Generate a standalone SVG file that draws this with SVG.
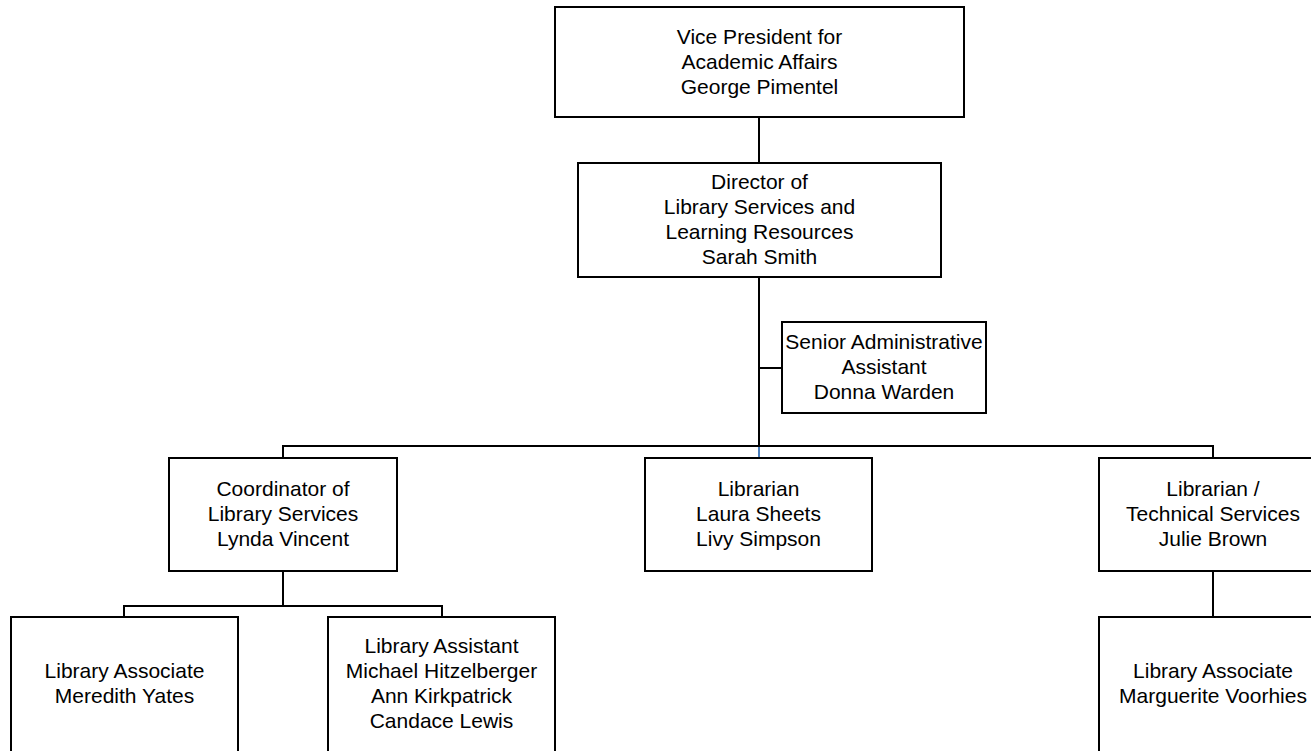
<svg xmlns="http://www.w3.org/2000/svg" width="1311" height="751" viewBox="0 0 1311 751">
<style>
.box{fill:#ffffff;stroke:#000000;stroke-width:2}
.ln{fill:none;stroke:#000000;stroke-width:2}
.t{font-family:"Liberation Sans",Arial,sans-serif;font-size:21px;fill:#000000;text-anchor:middle}
</style>
<rect width="1311" height="751" fill="#ffffff"/>
<g id="connectors">
<line class="ln" x1="759" y1="117" x2="759" y2="163"/>
<line class="ln" x1="759" y1="277" x2="759" y2="446"/>
<line x1="759" y1="447" x2="759" y2="458" stroke="#4a7ebb" stroke-width="2"/>
<line class="ln" x1="759" y1="368" x2="782" y2="368"/>
<polyline class="ln" points="283,458 283,446 1213,446 1213,458"/>
<polyline class="ln" points="283,571 283,606"/>
<polyline class="ln" points="124,617 124,606 442,606 442,617"/>
<line class="ln" x1="1213" y1="571" x2="1213" y2="617"/>
</g>
<g id="vp">
<rect class="box" x="555" y="7" width="409" height="110"/>
<text class="t" x="759.5" y="44">Vice President for</text>
<text class="t" x="759.5" y="69">Academic Affairs</text>
<text class="t" x="759.5" y="94">George Pimentel</text>
</g>
<g id="director">
<rect class="box" x="578" y="163" width="363" height="114"/>
<text class="t" x="759.5" y="189">Director of</text>
<text class="t" x="759.5" y="214">Library Services and</text>
<text class="t" x="759.5" y="239">Learning Resources</text>
<text class="t" x="759.5" y="264">Sarah Smith</text>
</g>
<g id="senior-admin">
<rect class="box" x="782" y="322" width="204" height="91"/>
<text class="t" x="884" y="349">Senior Administrative</text>
<text class="t" x="884" y="374">Assistant</text>
<text class="t" x="884" y="399">Donna Warden</text>
</g>
<g id="coordinator">
<rect class="box" x="169" y="458" width="228" height="113"/>
<text class="t" x="283" y="496">Coordinator of</text>
<text class="t" x="283" y="521">Library Services</text>
<text class="t" x="283" y="546">Lynda Vincent</text>
</g>
<g id="librarian">
<rect class="box" x="645" y="458" width="227" height="113"/>
<text class="t" x="758.5" y="496">Librarian</text>
<text class="t" x="758.5" y="521">Laura Sheets</text>
<text class="t" x="758.5" y="546">Livy Simpson</text>
</g>
<g id="librarian-tech">
<rect class="box" x="1099" y="458" width="228" height="113"/>
<text class="t" x="1213" y="496">Librarian /</text>
<text class="t" x="1213" y="521">Technical Services</text>
<text class="t" x="1213" y="546">Julie Brown</text>
</g>
<g id="lib-associate-yates">
<rect class="box" x="11" y="617" width="227" height="140"/>
<text class="t" x="124.5" y="678">Library Associate</text>
<text class="t" x="124.5" y="703">Meredith Yates</text>
</g>
<g id="lib-assistant">
<rect class="box" x="328" y="617" width="227" height="140"/>
<text class="t" x="441.5" y="653">Library Assistant</text>
<text class="t" x="441.5" y="678">Michael Hitzelberger</text>
<text class="t" x="441.5" y="703">Ann Kirkpatrick</text>
<text class="t" x="441.5" y="728">Candace Lewis</text>
</g>
<g id="lib-associate-voorhies">
<rect class="box" x="1099" y="617" width="228" height="140"/>
<text class="t" x="1213" y="678">Library Associate</text>
<text class="t" x="1213" y="703">Marguerite Voorhies</text>
</g>
</svg>
